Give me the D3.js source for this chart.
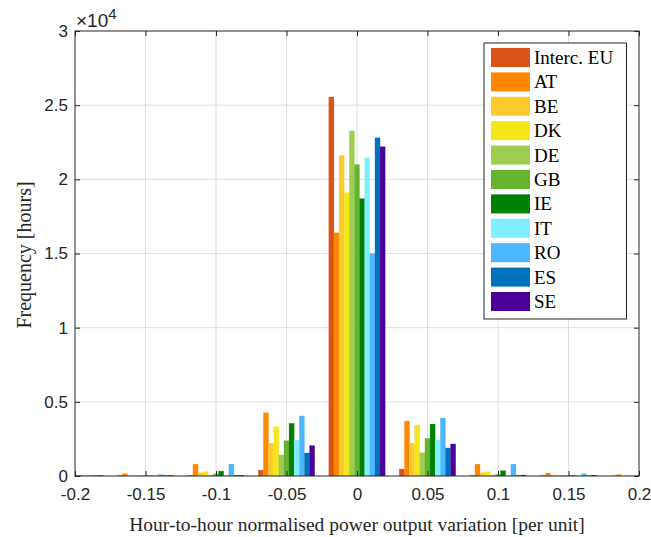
<!DOCTYPE html>
<html>
<head>
<meta charset="utf-8">
<script src="https://cdn.jsdelivr.net/npm/d3@7"></script>
<style>
  body { margin: 0; background: #fff; }
  .tick text { font-family: "Liberation Sans", Arial, sans-serif; font-size: 17px; fill: #262626; }
</style>
</head>
<body>
<svg id="chart" width="651" height="537"></svg>
<script>
const bins = [-0.2, -0.15, -0.1, -0.05, 0, 0.05, 0.1, 0.15, 0.2]
const regions = ['Interc. EU', 'AT', 'BE', 'DK', 'DE', 'GB', 'IE', 'IT', 'RO', 'ES', 'SE']
const colors = ['#d9541a', '#ff8800', '#fecb2e', '#f5e61a', '#9ecd4f', '#66b330', '#008000',
                '#80eeff', '#4db8ff', '#0072bd', '#4b0099']
// hours per bin, one row per region, bins in order above
const freq = [
  [10, 40, 50, 400, 25550, 470, 40, 30, 10],     // Interc. EU
  [20, 150, 800, 4270, 16400, 3700, 800, 200, 100], // AT
  [20, 30, 220, 2200, 21600, 2220, 220, 60, 20],  // BE
  [20, 30, 300, 3330, 19100, 3440, 300, 40, 20],  // DK
  [20, 30, 60, 1420, 23260, 1570, 60, 30, 20],    // DE
  [40, 30, 150, 2380, 21000, 2540, 110, 30, 20],  // GB
  [30, 20, 330, 3550, 18700, 3500, 360, 30, 20],  // IE
  [30, 40, 60, 2430, 21450, 2430, 60, 40, 20],    // IT
  [30, 100, 800, 4050, 15000, 3910, 800, 150, 20], // RO
  [30, 30, 50, 1550, 22800, 1890, 50, 30, 20],    // ES
  [30, 30, 40, 2050, 22200, 2160, 60, 50, 20]     // SE
]
const xTicks = [-0.2, -0.15, -0.1, -0.05, 0, 0.05, 0.1, 0.15, 0.2]
const yTicks = [0, 5000, 10000, 15000, 20000, 25000, 30000]

const svg = d3.select('#chart')
const L = 75, R = 639, T = 31, B = 476

const x = d3.scaleLinear().domain([-0.2, 0.2]).range([L, R])
const y = d3.scaleLinear().domain([0, 30000]).range([B, T])
const groupW = x(0.04) - x(0)
const sub = d3.scaleBand().domain(regions).range([-groupW / 2, groupW / 2])

svg.append('defs').append('clipPath').attr('id', 'plot')
  .append('rect').attr('x', L).attr('y', T).attr('width', R - L).attr('height', B - T)

// grid
svg.append('g').selectAll('line').data(xTicks.slice(1, -1)).enter().append('line')
  .attr('x1', d => x(d)).attr('x2', d => x(d)).attr('y1', T).attr('y2', B)
  .attr('stroke', '#dfdfdf')
svg.append('g').selectAll('line').data(yTicks.slice(1, -1)).enter().append('line')
  .attr('y1', d => y(d)).attr('y2', d => y(d)).attr('x1', L).attr('x2', R)
  .attr('stroke', '#dfdfdf')

// bars
const bars = svg.append('g').attr('clip-path', 'url(#plot)')
regions.forEach((r, i) => {
  bars.selectAll('.b' + i).data(freq[i]).enter().append('rect')
    .attr('x', (d, j) => x(bins[j]) + sub(r))
    .attr('width', sub.bandwidth())
    .attr('y', d => y(d))
    .attr('height', d => B - y(d))
    .attr('fill', colors[i])
    .attr('stroke', colors[i]).attr('stroke-opacity', 0.35).attr('stroke-width', 0.6)
})

// axes
const xAxis = d3.axisBottom(x).tickValues(xTicks).tickSize(-5).tickPadding(12)
  .tickFormat(d => String(+d.toFixed(2)))
const yAxis = d3.axisLeft(y).tickValues(yTicks).tickSize(-5).tickPadding(7)
  .tickFormat(d => String(d / 10000))
svg.append('g').attr('transform', `translate(0,${B})`).call(xAxis)
  .call(g => g.select('.domain').remove())
svg.append('g').attr('transform', `translate(${L},0)`).call(yAxis)
  .call(g => g.select('.domain').remove())
svg.append('g').attr('transform', `translate(${R},0)`)
  .call(d3.axisRight(y).tickValues(yTicks).tickSize(-5).tickFormat(''))
  .call(g => g.select('.domain').remove())
svg.append('g').attr('transform', `translate(0,${T})`)
  .call(d3.axisTop(x).tickValues(xTicks).tickSize(-5).tickFormat(''))
  .call(g => g.select('.domain').remove())
svg.selectAll('.tick line').attr('stroke', '#262626')
svg.append('rect').attr('x', L).attr('y', T).attr('width', R - L).attr('height', B - T)
  .attr('fill', 'none').attr('stroke', '#262626').attr('stroke-width', 1)

// exponent
const ex = svg.append('text').attr('x', L + 1).attr('y', 27)
  .attr('font-family', 'Liberation Sans, Arial, sans-serif').attr('font-size', 19).attr('fill', '#262626')
ex.append('tspan').text('×10')
ex.append('tspan').attr('dy', -8).attr('font-size', 15).text('4')

// axis labels
svg.append('text').attr('x', (L + R) / 2).attr('y', 531).attr('text-anchor', 'middle')
  .attr('font-family', 'Liberation Serif, Times New Roman, serif').attr('font-size', 19.5).attr('fill', '#262626')
  .text('Hour-to-hour normalised power output variation [per unit]')
svg.append('text').attr('transform', `translate(31,255) rotate(-90)`).attr('text-anchor', 'middle')
  .attr('font-family', 'Liberation Serif, Times New Roman, serif').attr('font-size', 20).attr('fill', '#262626')
  .text('Frequency [hours]')

// legend
const lg = svg.append('g').attr('transform', 'translate(484,43)')
lg.append('rect').attr('width', 142.5).attr('height', 276).attr('fill', '#fff')
  .attr('stroke', '#262626').attr('stroke-width', 1)
regions.forEach((r, i) => {
  const gy = 5 + i * 24.4
  lg.append('rect').attr('x', 7).attr('y', gy).attr('width', 39).attr('height', 19)
    .attr('fill', colors[i])
  lg.append('text').attr('x', 50).attr('y', gy + 16)
    .attr('font-family', 'Liberation Serif, Times New Roman, serif').attr('font-size', 19).attr('fill', '#000')
    .text(r)
})
</script>
</body>
</html>
